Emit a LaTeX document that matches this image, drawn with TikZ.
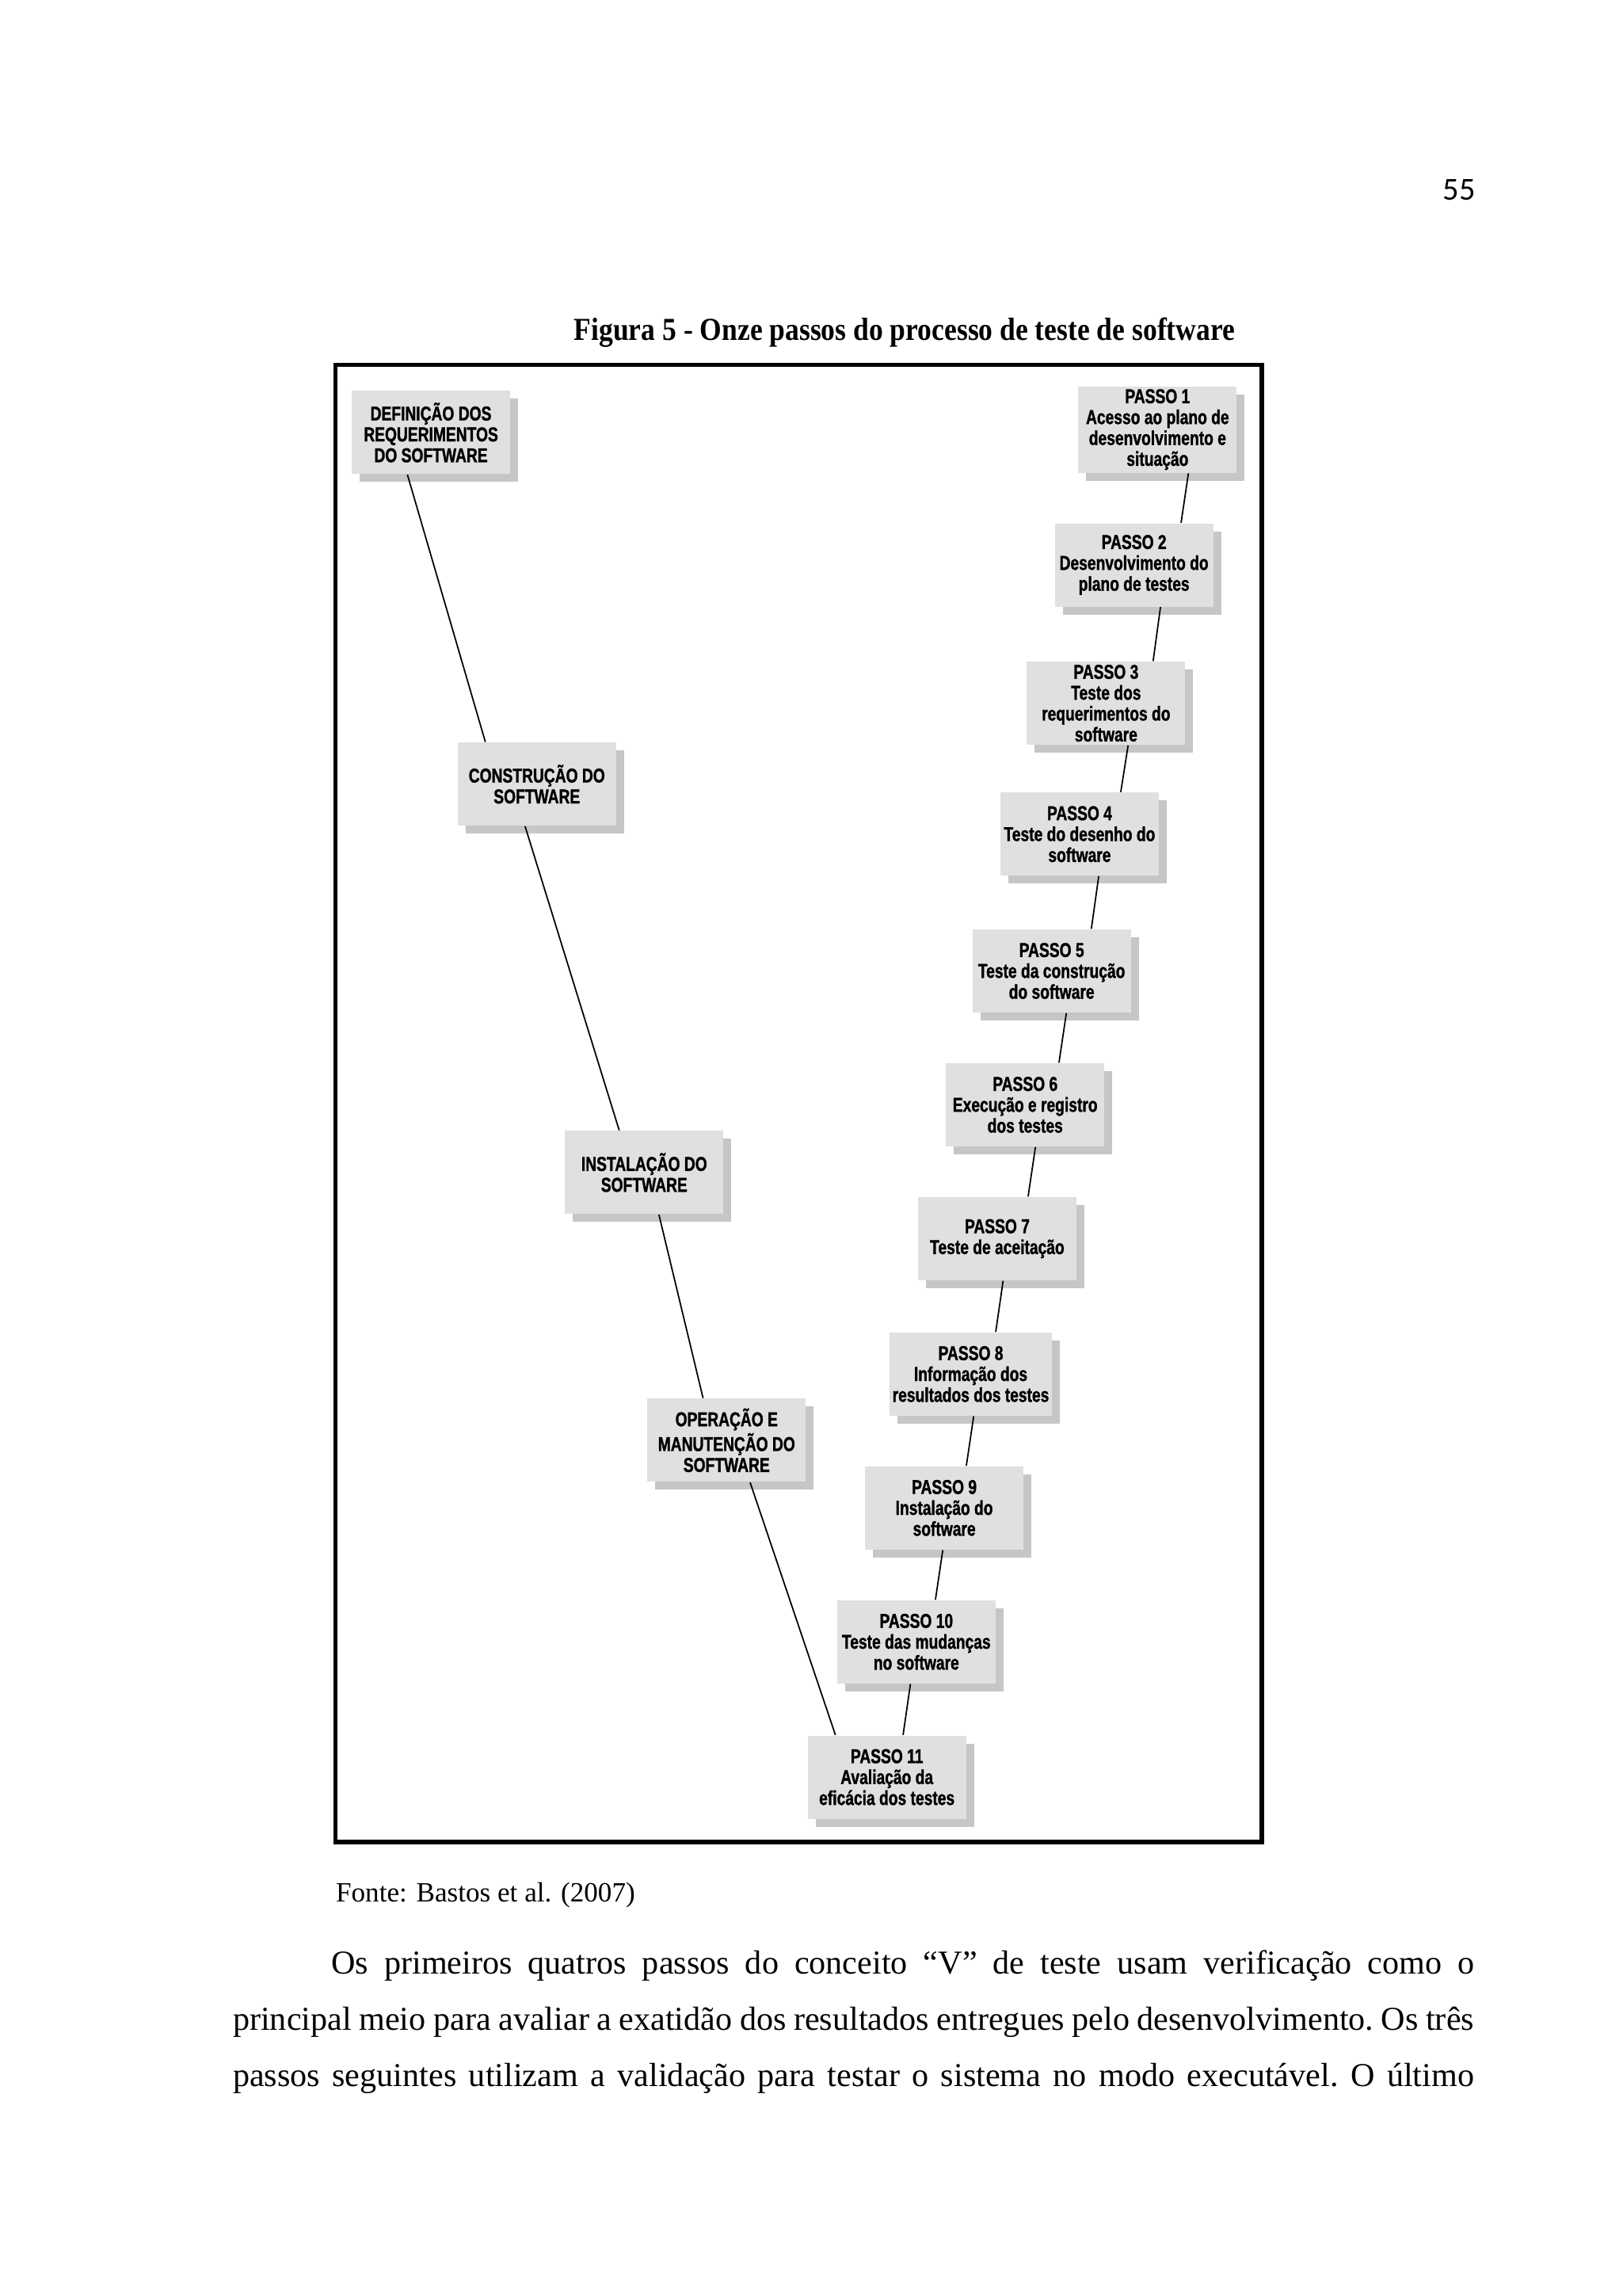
\documentclass[tikz,border=0pt]{standalone}
\usepackage{fontspec}
\setmainfont{Liberation Serif}
\newfontfamily\cond[FakeStretch=0.76,FakeBold=1.2]{Liberation Sans}
\newfontfamily\titfont[FakeStretch=0.88]{Liberation Serif}
\newfontfamily\calib{Carlito}
\usetikzlibrary{calc,shadows}
\begin{document}
\begin{tikzpicture}[x=0.018568cm,y=-0.018568cm,
  box/.style={draw=none,fill=gray!24,minimum width=2.0cm,minimum height=1.05cm,inner sep=1pt,align=center,
    font=\cond\bfseries\fontsize{7.2}{7.5}\selectfont,
    drop shadow={shadow xshift=0.1cm,shadow yshift=-0.1cm,fill=gray!45,opacity=1}},
  conn/.style={line width=0.5pt},
  bodyline/.style={anchor=base west,inner sep=0pt,font=\rmfamily\frenchspacing\fontsize{12}{14}\selectfont}]
\useasboundingbox (0,0) rectangle (1103,1560.7);
\fill[white] (0,0) rectangle (1103,1560.7);
\node[font=\calib\fontsize{11.5}{12}\selectfont] (pg) at (992,129) {55};
\node[font=\titfont\bfseries\fontsize{11.5}{13}\selectfont] (tit) at (615,226) {Figura 5 - Onze passos do processo de teste de software};
\draw[line width=1.6pt] (228,248) rectangle (858,1252);
\node[box] (def) at (293,294) {DEFINIÇÃO DOS\\REQUERIMENTOS\\DO SOFTWARE};
\node[box] (con) at (365,533) {CONSTRUÇÃO DO\\SOFTWARE};
\node[box] (ins) at (438,797) {INSTALAÇÃO DO\\SOFTWARE};
\node[box] (ope) at (494,979) {OPERAÇÃO E\\MANUTENÇÃO DO\\SOFTWARE};
\node[box] (p1) at (787,292) {PASSO 1\\Acesso ao plano de\\desenvolvimento e\\situação};
\node[box] (p2) at (771,384) {PASSO 2\\Desenvolvimento do\\plano de testes};
\node[box] (p3) at (752,478) {PASSO 3\\Teste dos\\requerimentos do\\software};
\node[box] (p4) at (734,567) {PASSO 4\\Teste do desenho do\\software};
\node[box] (p5) at (715,660) {PASSO 5\\Teste da construção\\do software};
\node[box] (p6) at (697,751) {PASSO 6\\Execução e registro\\dos testes};
\node[box] (p7) at (678,842) {PASSO 7\\Teste de aceitação};
\node[box] (p8) at (660,934) {PASSO 8\\Informação dos\\resultados dos testes};
\node[box] (p9) at (642,1025) {PASSO 9\\Instalação do\\software};
\node[box] (p10) at (623,1116) {PASSO 10\\Teste das mudanças\\no software};
\node[box] (p11) at (603,1208) {PASSO 11\\Avaliação da\\eficácia dos testes};
\draw[conn] ($(def.south)+(-16,0)$) -- ($(con.north)+(-35,0)$);
\draw[conn] ($(con.south)+(-8,0)$) -- ($(ins.north)+(-17,0)$);
\draw[conn] ($(ins.south)+(10,0)$) -- ($(ope.north)+(-16,0)$);
\draw[conn] ($(ope.south)+(16,0)$) -- ($(p11.north)+(-35,0)$);
\foreach \a/\b/\s/\t in {p1/p2/21/32,p2/p3/18/32,p3/p4/15/28,p4/p5/13/27,p5/p6/10/23,p6/p7/7/21,p7/p8/4/17,p8/p9/2/15,p9/p10/-1/13,p10/p11/-4/11}
  \draw[conn] ($(\a.south)+(\s,0)$) -- ($(\b.north)+(\t,0)$);
\node[anchor=west,inner sep=0pt,font=\rmfamily\fontsize{10}{12}\selectfont] (fonte) at (228,1288) {Fonte: Bastos et al. (2007)};
\node[bodyline] (l1) at (225,1342) {\makebox[14.43cm][s]{Os primeiros quatros passos do conceito “V” de teste usam verificação como o}};
\node[bodyline] (l2) at (158,1380) {\makebox[15.67cm][s]{principal meio para avaliar a exatidão dos resultados entregues pelo desenvolvimento. Os três}};
\node[bodyline] (l3) at (158,1418) {\makebox[15.67cm][s]{passos seguintes utilizam a validação para testar o sistema no modo executável. O último}};
\end{tikzpicture}
\end{document}
